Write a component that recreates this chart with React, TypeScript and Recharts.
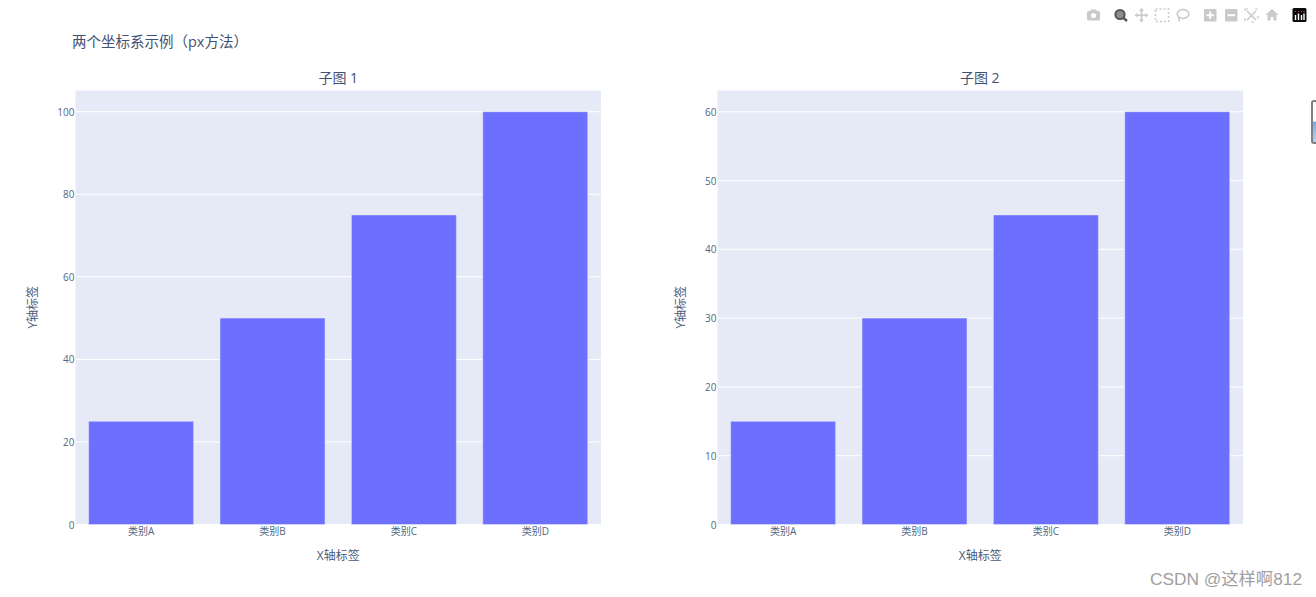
import React from "react";
import { BarChart, Bar, XAxis, YAxis, CartesianGrid, Label } from "recharts";

const categories = ["类别A", "类别B", "类别C", "类别D"];
const valuesLeft = [25, 50, 75, 100];
const valuesRight = [15, 30, 45, 60];
const ticksLeft = [0, 20, 40, 60, 80, 100];
const ticksRight = [0, 10, 20, 30, 40, 50, 60];
const maxLeft = 105.26;
const maxRight = 63.16;
const mainTitle = "两个坐标系示例（px方法）";
const subTitles = ["子图 1", "子图 2"];
const xLabel = "X轴标签";
const yLabel = "Y轴标签";
const watermark = "CSDN @这样啊812";

const dataLeft = categories.map((c, i) => ({ c, v: valuesLeft[i] }));
const dataRight = categories.map((c, i) => ({ c, v: valuesRight[i] }));

const FONT = '"Open Sans","Noto Sans CJK SC",sans-serif';
const TICK = "#506784";
const TEXT = "#4a5a78";
const PLOT_BG = "#E6EAF6";

function Panel({ data, ticks, max, left, title, yw }: any) {
  return (
    <>
      <div style={{ position: "absolute", left: left + 75.5, width: 525.5, top: 68, textAlign: "center", fontSize: 14, lineHeight: "19px", color: "#3f5272", fontFamily: FONT }}>{title}</div>
      <div style={{ position: "absolute", left, top: 0 }}>
        <BarChart width={660} height={597} data={data} margin={{ top: 90, bottom: 0, left: 0, right: 59 }} barCategoryGap="10%" style={{ fontFamily: FONT }}>
          <CartesianGrid vertical={false} stroke="#ffffff" strokeWidth={1} fill={PLOT_BG} />
          <XAxis dataKey="c" axisLine={false} tickLine={false} height={72.5} tickSize={0} tickMargin={3} interval={0} tick={{ fontSize: 10, fill: TICK }}>
            <Label value={xLabel} position="insideTop" offset={27} style={{ fontSize: 12, fill: TEXT }} />
          </XAxis>
          <YAxis width={75.5} domain={[0, max]} ticks={ticks} axisLine={false} tickLine={false} tickSize={0} tickMargin={1} interval={0} tick={{ fontSize: 10, fill: TICK, dy: 0.5 }}>
            <Label value={yLabel} angle={-90} position="insideLeft" offset={yw} style={{ fontSize: 12, fill: TEXT, textAnchor: "middle" }} />
          </YAxis>
          <Bar dataKey="v" fill="#6D70FE" stroke={PLOT_BG} strokeWidth={0.5} isAnimationActive={false} />
        </BarChart>
      </div>
    </>
  );
}

const G = "#c9c9c9";
function ModeBar() {
  return (
    <svg width={240} height={24} style={{ position: "absolute", left: 1076, top: 3 }} viewBox="1076 3 240 24">
      {/* camera */}
      <rect x={1087} y={11} width={13} height={9.5} rx={1.5} fill={G} />
      <rect x={1090.5} y={9.5} width={6} height={3} fill={G} />
      <circle cx={1093.5} cy={15.5} r={2.6} fill="#fff" />
      {/* zoom */}
      <circle cx={1120} cy={14.5} r={4.6} fill="#8d8d8d" stroke="#555" strokeWidth={2} />
      <line x1={1123.5} y1={18} x2={1127} y2={21} stroke="#555" strokeWidth={2.4} />
      {/* pan */}
      <line x1={1141.5} y1={10} x2={1141.5} y2={21} stroke={G} strokeWidth={1.6} />
      <line x1={1136} y1={15.3} x2={1147} y2={15.3} stroke={G} strokeWidth={1.6} />
      <path d="M1139 11l2.5-3 2.5 3zM1139 19.5l2.5 3 2.5-3zM1137.5 13l-3 2.3 3 2.3zM1145.5 13l3 2.3-3 2.3z" fill={G} />
      {/* box select */}
      <rect x={1155.5} y={9} width={13} height={12.5} fill="none" stroke={G} strokeWidth={1.5} strokeDasharray="2 2" />
      {/* lasso */}
      <ellipse cx={1183} cy={14} rx={5.8} ry={4.5} fill="none" stroke={G} strokeWidth={1.5} />
      <line x1={1178.5} y1={17.5} x2={1179.5} y2={21.5} stroke={G} strokeWidth={1.5} />
      {/* plus */}
      <rect x={1204} y={9} width={12.5} height={12.5} rx={1} fill={G} />
      <path d="M1210.2 11.5v7.5M1206.5 15.2h7.5" stroke="#fff" strokeWidth={2} />
      {/* minus */}
      <rect x={1225} y={9} width={12.5} height={12.5} rx={1} fill={G} />
      <path d="M1227.5 15.2h7.5" stroke="#fff" strokeWidth={2} />
      {/* autoscale */}
      <rect x={1245} y={9} width={13} height={13} fill="none" stroke={G} strokeWidth={1.2} strokeDasharray="3 7" />
      <path d="M1247 11l9 9M1256 11l-9 9" stroke={G} strokeWidth={1.5} />
      {/* home */}
      <path d="M1272 9l6.5 6h-2v5.5h-3v-3.5h-3v3.5h-3V15h-2z" fill={G} />
      {/* plotly logo */}
      <rect x={1292.5} y={8} width={14} height={14} rx={1.5} fill="#0a0a0a" />
      <path d="M1295.5 15v5M1298.5 13.5v6.5M1301.5 15v5M1304 13.5v6.5" stroke="#fff" strokeWidth={1.4} />
      <path d="M1295 11.5h1M1298 11.5h1M1301 11.5h1M1303.5 11.5h1" stroke="#e8477a" strokeWidth={1} />
    </svg>
  );
}

export default function App() {
  return (
    <div style={{ position: "absolute", left: 0, top: 0, width: 1316, height: 597, background: "#fff", overflow: "hidden", fontFamily: FONT }}>
      <div style={{ position: "absolute", left: 72, top: 32, fontSize: 14.5, lineHeight: "20px", color: "#3f5272", whiteSpace: "nowrap" }}>{mainTitle}</div>
      <Panel data={dataLeft} ticks={ticksLeft} max={maxLeft} left={0} title={subTitles[0]} yw={33} />
      <Panel data={dataRight} ticks={ticksRight} max={maxRight} left={641.5} title={subTitles[1]} yw={39} />
      <ModeBar />
      <div style={{ position: "absolute", left: 1310.5, top: 100, width: 12, height: 40, border: "2px solid #808080", borderRadius: 3, background: "linear-gradient(to bottom,#ffffff 48%,#6aaef5 50%,#b5d8f8 100%)" }} />
      <div style={{ position: "absolute", left: 1150, top: 568, fontSize: 17.3, lineHeight: "22px", color: "#a0a0a0", whiteSpace: "nowrap", fontFamily: '"Liberation Sans","Noto Sans CJK SC",sans-serif' }}>{watermark}</div>
    </div>
  );
}
